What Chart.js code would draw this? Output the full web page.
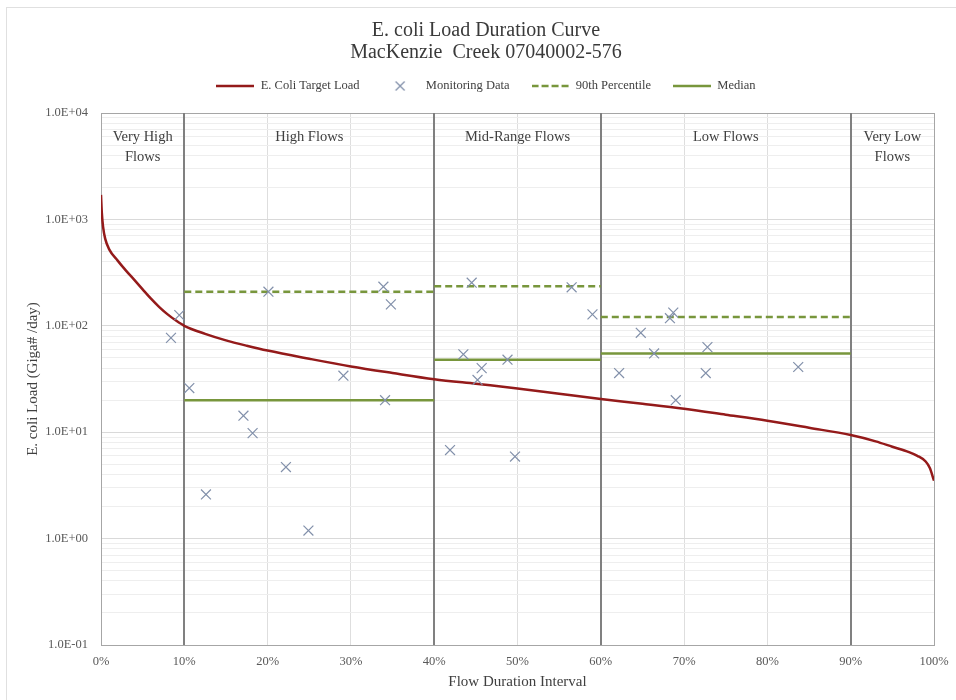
<!DOCTYPE html>
<html>
<head>
<meta charset="utf-8">
<title>E. coli Load Duration Curve</title>
<script src="https://cdn.jsdelivr.net/npm/chart.js@4.4.1/dist/chart.umd.min.js"></script>
<style>
  html, body { margin: 0; padding: 0; background: #ffffff; }
  #wrap { position: relative; width: 956px; height: 700px; overflow: hidden; }
  #frame { position: absolute; left: 6px; top: 7px; width: 1000px; height: 800px;
           border: 1px solid #e0e0e0; box-sizing: border-box; }
  #c { position: absolute; left: 0; top: 0; }
</style>
</head>
<body>
<div id="wrap">
  <div id="frame"></div>
  <canvas id="c" width="956" height="700"></canvas>
</div>
<script>
// Load duration curve: target load vs. percent of time flow is exceeded
const flowPct = [0, 0.1, 0.25, 0.5, 1, 2, 3, 4, 5, 6, 7, 8, 9, 10, 12.5, 15, 17.5, 20,
  25, 30, 35, 40, 45, 50, 55, 60, 65, 70, 75, 80, 85, 90, 93, 95, 97, 98, 99, 99.5, 100];
const targetLoad = [1700, 1150, 850, 660, 520, 410, 330, 270, 220, 180, 150, 128, 112, 100, 84, 73, 65, 58.5,
  49, 41.5, 36, 31.5, 28.5, 25.8, 23, 20.5, 18.5, 16.6, 14.6, 12.8, 11, 9.4, 8.2, 7.3, 6.5, 6.0, 5.3, 4.6, 3.5];

// Monitoring samples (flow duration %, load in Giga#/day)
const obsPct  = [8.4, 9.4, 10.6, 12.6, 17.1, 18.2, 20.1, 22.2, 24.9, 29.1, 33.9, 34.1, 34.8,
  41.9, 43.5, 44.5, 45.2, 45.7, 48.8, 49.7, 56.5, 59.0,
  62.2, 64.8, 66.4, 68.3, 68.7, 69.0, 72.6, 72.8, 83.7];
const obsLoad = [77, 126, 26, 2.6, 14.3, 9.8, 209, 4.7, 1.19, 34, 233, 20, 159,
  6.8, 54, 254, 31, 40, 48, 5.9, 230, 128,
  36, 86, 55, 118, 133, 20, 36, 63, 41];

// Flow zones and per-zone statistics of the samples
const zoneEdges = [0, 10, 40, 60, 90, 100];
const zoneNames = [['Very High', 'Flows'], ['High Flows'], ['Mid-Range Flows'], ['Low Flows'], ['Very Low', 'Flows']];
const p90ByZone = [null, 209, 235, 121, null];
const medianByZone = [null, 20, 48, 55, null];

// Axis ticks
const xTicks = [0, 10, 20, 30, 40, 50, 60, 70, 80, 90, 100];
const yDecades = [0.1, 1, 10, 100, 1000, 10000];

const SERIF = "'Liberation Serif', 'Times New Roman', serif";
const RED = '#941a1a';
const MARK = '#8290aa';
const GREEN = '#78963c';
const DIVIDERS = zoneEdges.slice(1, -1);

Chart.defaults.font.family = SERIF;
Chart.defaults.color = '#404040';

function segmentsFor(values) {
  const pts = [];
  values.forEach((v, i) => {
    if (v == null) return;
    pts.push({ x: zoneEdges[i], y: v }, { x: zoneEdges[i + 1], y: v }, { x: zoneEdges[i + 1], y: null });
  });
  return pts;
}

function fmtSci(v) {
  const e = Math.round(Math.log10(v));
  const m = v / Math.pow(10, e);
  return m.toFixed(1) + 'E' + (e < 0 ? '-' : '+') + String(Math.abs(e)).padStart(2, '0');
}

// y gridline values: decades plus 2..9 in each decade
const yGrid = [];
yDecades.forEach((d, i) => {
  yGrid.push({ value: d, major: true });
  if (i < yDecades.length - 1) for (let k = 2; k <= 9; k++) yGrid.push({ value: +(d * k).toPrecision(3), major: false });
});

// legend swatches
function swatch(kind) {
  const c = document.createElement('canvas');
  c.width = 38; c.height = 12;
  const g = c.getContext('2d');
  g.lineCap = 'butt';
  if (kind === 'cross') {
    g.strokeStyle = MARK; g.lineWidth = 1.2;
    g.beginPath();
    g.moveTo(14, 1.5); g.lineTo(23, 10.5);
    g.moveTo(23, 1.5); g.lineTo(14, 10.5);
    g.stroke();
  } else {
    g.strokeStyle = kind === 'curve' ? RED : GREEN;
    g.lineWidth = 2.5;
    if (kind === 'dash') g.setLineDash([7, 3]);
    g.beginPath(); g.moveTo(0, 6); g.lineTo(38, 6); g.stroke();
  }
  return c;
}
const swatches = [swatch('curve'), swatch('cross'), swatch('dash'), swatch('solid')];

// zone captions and zone divider lines, placed through the x scale
const zoneLayer = {
  id: 'zoneLayer',
  beforeDatasetsDraw(chart) {
    const { ctx, chartArea, scales: { x } } = chart;
    ctx.save();
    ctx.strokeStyle = '#808080';
    ctx.lineWidth = 2;
    ctx.setLineDash([]);
    DIVIDERS.forEach(v => {
      const px = Math.round(x.getPixelForValue(v));
      ctx.beginPath();
      ctx.moveTo(px, chartArea.top);
      ctx.lineTo(px, chartArea.bottom);
      ctx.stroke();
    });
    ctx.restore();
  },
  afterDatasetsDraw(chart) {
    const { ctx, chartArea, scales: { x } } = chart;
    ctx.save();
    ctx.font = '14.5px ' + SERIF;
    ctx.fillStyle = '#404040';
    ctx.textAlign = 'center';
    ctx.textBaseline = 'middle';
    zoneNames.forEach((lines, i) => {
      const cx = x.getPixelForValue((zoneEdges[i] + zoneEdges[i + 1]) / 2);
      lines.forEach((t, j) => ctx.fillText(t, cx, chartArea.top + 24 + j * 20));
    });
    ctx.restore();
  }
};

new Chart(document.getElementById('c'), {
  type: 'scatter',
  data: {
    datasets: [
      {
        label: 'E. Coli Target Load',
        type: 'line',
        data: flowPct.map((p, i) => ({ x: p, y: targetLoad[i] })),
        borderColor: RED,
        borderWidth: 2.5,
        pointRadius: 0,
        cubicInterpolationMode: 'monotone',
        fill: false,
        order: 3
      },
      {
        label: 'Monitoring Data',
        data: obsPct.map((p, i) => ({ x: p, y: obsLoad[i] })),
        pointStyle: 'crossRot',
        pointRadius: 7,
        borderColor: MARK,
        backgroundColor: MARK,
        pointBorderWidth: 1.2,
        showLine: false,
        order: 0
      },
      {
        label: '90th Percentile',
        type: 'line',
        data: segmentsFor(p90ByZone),
        borderColor: GREEN,
        borderWidth: 2.5,
        borderDash: [7, 4],
        pointRadius: 0,
        spanGaps: false,
        fill: false,
        order: 2
      },
      {
        label: 'Median',
        type: 'line',
        data: segmentsFor(medianByZone),
        borderColor: GREEN,
        borderWidth: 2.5,
        pointRadius: 0,
        spanGaps: false,
        fill: false,
        order: 1
      }
    ]
  },
  options: {
    responsive: false,
    animation: false,
    devicePixelRatio: 1,
    layout: { padding: { top: 10, left: 38, right: 22, bottom: 0 } },
    plugins: {
      title: {
        display: true,
        text: ['E. coli Load Duration Curve', 'MacKenzie  Creek 07040002-576'],
        color: '#3a3a3a',
        font: { size: 20, weight: 'normal', lineHeight: 1.1 },
        padding: { top: 10, bottom: -6.25 }
      },
      legend: {
        display: true,
        position: 'top',
        labels: {
          usePointStyle: true,
          pointStyleWidth: 38,
          padding: 22,
          color: '#404040',
          font: { size: 12.5 },
          generateLabels(chart) {
            return chart.data.datasets.map((ds, i) => ({
              text: ds.label,
              pointStyle: swatches[i],
              datasetIndex: i,
              fontColor: '#404040',
              lineWidth: 0,
              strokeStyle: 'rgba(0,0,0,0)',
              fillStyle: 'rgba(0,0,0,0)',
              hidden: false
            }));
          }
        }
      },
      tooltip: { enabled: false }
    },
    scales: {
      x: {
        type: 'linear',
        position: 'bottom',
        min: 0,
        max: 100,
        afterBuildTicks(s) { s.ticks = xTicks.map(v => ({ value: v })); },
        afterFit(s) { s.height = 55; s.paddingLeft = 0; s.paddingRight = 0; },
        ticks: {
          padding: 9.5,
          color: '#595959',
          font: { size: 12.5 },
          callback: v => v + '%'
        },
        grid: {
          drawTicks: false,
          color: c => {
            const v = c.tick && c.tick.value;
            if (v === 0 || v === 100) return '#a6a6a6';
            return '#dedede';
          },
          lineWidth: 1
        },
        border: { display: true, color: '#a6a6a6', width: 1 },
        title: {
          display: true,
          text: 'Flow Duration Interval',
          color: '#404040',
          font: { size: 15 },
          padding: { top: 0, bottom: 9 }
        }
      },
      xTop: {
        type: 'linear',
        axis: 'x',
        position: 'top',
        display: true,
        min: 0,
        max: 100,
        ticks: { display: false },
        grid: { display: false, drawTicks: false },
        border: { display: false },
        afterFit(s) { s.height = 10.75; s.paddingLeft = 0; s.paddingRight = 0; }
      },
      y: {
        type: 'logarithmic',
        min: 0.1,
        max: 10000,
        afterBuildTicks(s) { s.ticks = yGrid.map(t => ({ value: t.value, major: t.major })); },
        afterFit(s) { s.width = 63; },
        ticks: {
          autoSkip: false,
          padding: 13,
          color: '#595959',
          font: { size: 12.5 },
          callback: (v, i, ticks) => (ticks[i].major ? fmtSci(v) : '')
        },
        grid: {
          drawTicks: false,
          color: c => {
            if (!c.tick) return '#eeeeee';
            if (c.tick.value === 10000) return '#a6a6a6';
            return c.tick.major ? '#d9d9d9' : '#eeeeee';
          },
          lineWidth: 1
        },
        border: { display: true, color: '#a6a6a6', width: 1 },
        title: {
          display: true,
          text: 'E. coli Load (Giga# /day)',
          color: '#404040',
          font: { size: 15 },
          padding: { top: -14, bottom: 0 }
        }
      }
    }
  },
  plugins: [zoneLayer]
});
</script>
</body>
</html>
